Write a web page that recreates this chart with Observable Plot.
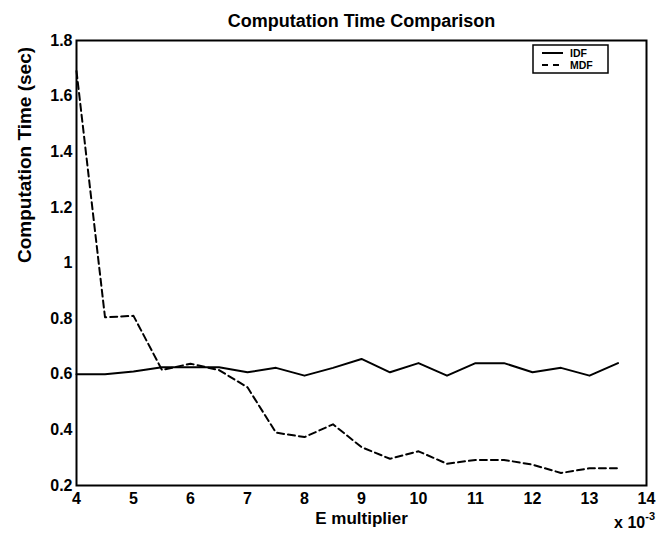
<!DOCTYPE html>
<html>
<head>
<meta charset="utf-8">
<script src="https://cdn.jsdelivr.net/npm/d3@7"></script>
<script src="https://cdn.jsdelivr.net/npm/@observablehq/plot@0.6"></script>
<style>
  html, body { margin: 0; padding: 0; background: #fff; }
  #chart svg { display: block; font-family: "Liberation Sans", Arial, sans-serif; }
</style>
</head>
<body>
<div id="chart"></div>
<script>
const eMultiplier = [4, 4.5, 5, 5.5, 6, 6.5, 7, 7.5, 8, 8.5, 9, 9.5, 10, 10.5, 11, 11.5, 12, 12.5, 13, 13.5];
const idf = [0.6, 0.6, 0.61, 0.625, 0.625, 0.625, 0.607, 0.623, 0.595, 0.623, 0.655, 0.607, 0.64, 0.595, 0.64, 0.64, 0.607, 0.623, 0.595, 0.64];
const mdf = [1.69, 0.805, 0.81, 0.615, 0.638, 0.615, 0.553, 0.39, 0.374, 0.42, 0.338, 0.296, 0.323, 0.278, 0.292, 0.292, 0.275, 0.245, 0.262, 0.262];
const xTicks = [4, 5, 6, 7, 8, 9, 10, 11, 12, 13, 14];
const yTicks = [0.2, 0.4, 0.6, 0.8, 1, 1.2, 1.4, 1.6, 1.8];
const seriesNames = ["IDF", "MDF"];

const rows = [];
eMultiplier.forEach((e, i) => {
  rows.push({e, t: idf[i], s: "IDF"});
  rows.push({e, t: mdf[i], s: "MDF"});
});

const W = 667, H = 533;
const font = "Liberation Sans, Arial, sans-serif";

const plot = Plot.plot({
  width: W,
  height: H,
  marginLeft: 76,
  marginRight: 21,
  marginTop: 40,
  marginBottom: 48,
  style: {fontFamily: font, fontSize: "16px", fontWeight: "bold", color: "#000", background: "#fff"},
  x: {domain: [4, 14], ticks: xTicks, tickSize: 0, tickPadding: 7, label: null, tickFormat: d => String(d)},
  y: {domain: [0.2, 1.8], ticks: yTicks, tickSize: 0, tickPadding: 4, label: null, tickFormat: d => String(+d.toFixed(1))},
  marks: [
    Plot.line(rows.filter(d => d.s === "IDF"), {x: "e", y: "t", stroke: "#000", strokeWidth: 2}),
    Plot.line(rows.filter(d => d.s === "MDF"), {x: "e", y: "t", stroke: "#000", strokeWidth: 2, strokeDasharray: "7,4"}),
    Plot.frame({stroke: "#000", strokeWidth: 2}),
    Plot.text(["Computation Time Comparison"], {frameAnchor: "top", dy: -26, fontSize: 18, fontWeight: "bold", fill: "#000"}),
    Plot.text(["E multiplier"], {frameAnchor: "bottom", dy: 38, fontSize: 17, fontWeight: "bold", fill: "#000"}),
    Plot.text(["Computation Time (sec)"], {frameAnchor: "left", dx: -52, rotate: -90, fontSize: 19, fontWeight: "bold", fill: "#000"})
  ]
});

const svg = d3.select(plot);
// "x 10^-3" multiplier label
const mult = svg.append("text")
  .attr("x", 655).attr("y", 528)
  .attr("text-anchor", "end")
  .attr("font-size", 16).attr("font-weight", "bold").attr("fill", "#000");
mult.append("tspan").text("x 10");
mult.append("tspan").attr("dy", -8).attr("font-size", 11).text("-3");

// legend
const lg = svg.append("g").attr("transform", "translate(533,45)");
lg.append("rect").attr("width", 75).attr("height", 28).attr("fill", "#fff").attr("stroke", "#000").attr("stroke-width", 1.5);
seriesNames.forEach((name, i) => {
  const yy = 8 + i * 12;
  lg.append("line").attr("x1", 9).attr("x2", 30).attr("y1", yy).attr("y2", yy)
    .attr("stroke", "#000").attr("stroke-width", 2)
    .attr("stroke-dasharray", name === "MDF" ? "6,5" : null);
  lg.append("text").attr("x", 37).attr("y", yy).attr("dy", "0.36em")
    .attr("text-anchor", "start")
    .attr("font-size", 10.5).attr("font-weight", "bold").attr("fill", "#000").text(name);
});

document.getElementById("chart").appendChild(plot);
</script>
</body>
</html>
